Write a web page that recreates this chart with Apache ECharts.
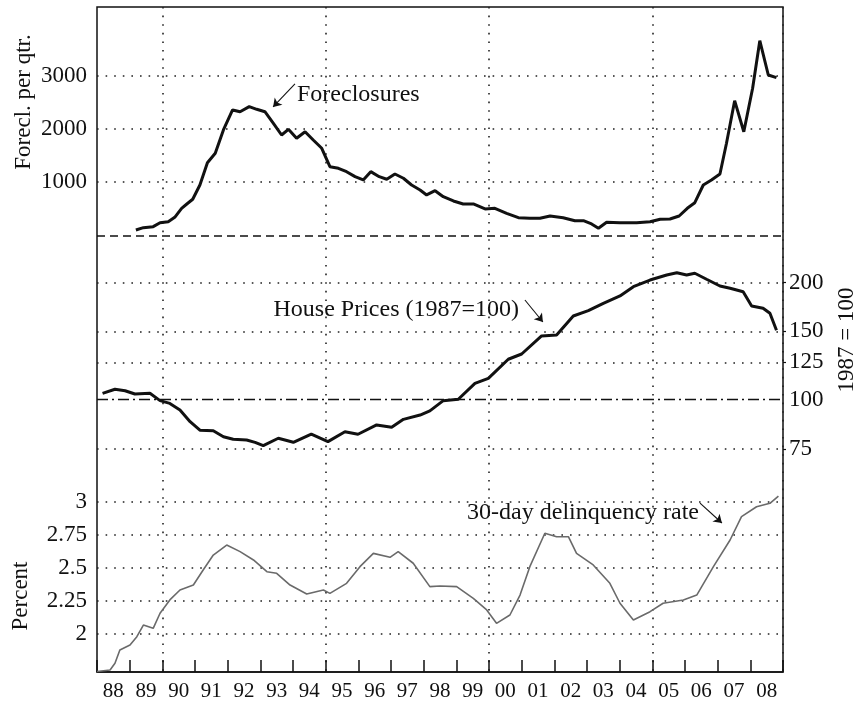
<!DOCTYPE html>
<html>
<head>
<meta charset="utf-8">
<script src="https://cdn.jsdelivr.net/npm/echarts@6/dist/echarts.min.js"></script>
<style>
  html, body { margin: 0; padding: 0; background: #fff; }
  #chart { width: 860px; height: 709px; }
</style>
</head>
<body>
<div id="chart"></div>
<script>
// year labels under the frame (one band per year, 1988..2008)
const yearLabels = ['88', '89', '90', '91', '92', '93', '94', '95', '96', '97', '98',
  '99', '00', '01', '02', '03', '04', '05', '06', '07', '08'];
const gridYears = ['90', '95', '00', '05'];

// foreclosures per quarter
const forecYears = [1989.19, 1989.42, 1989.72, 1989.93, 1990.18, 1990.38, 1990.59, 1990.75, 1990.93,
  1991.15, 1991.38, 1991.62, 1991.87, 1992.15, 1992.38, 1992.66, 1992.89, 1993.14, 1993.40,
  1993.65, 1993.86, 1994.11, 1994.37, 1994.62, 1994.88, 1995.13, 1995.39, 1995.64, 1995.90,
  1996.15, 1996.38, 1996.64, 1996.87, 1997.12, 1997.38, 1997.63, 1997.89, 1998.09, 1998.35,
  1998.60, 1998.91, 1999.21, 1999.52, 1999.88, 2000.18, 2000.54, 2000.90, 2001.25, 2001.56,
  2001.87, 2002.27, 2002.63, 2002.89, 2003.14, 2003.35, 2003.60, 2004.01, 2004.52, 2004.93,
  2005.24, 2005.54, 2005.82, 2006.07, 2006.30, 2006.56, 2006.81, 2007.07, 2007.27, 2007.52,
  2007.80, 2008.07, 2008.29, 2008.55, 2008.80];
const forecValues = [103, 147, 166, 240, 259, 341, 510, 591, 679,
  947, 1365, 1541, 1978, 2353, 2321, 2415, 2366, 2321, 2104,
  1884, 1991, 1823, 1946, 1791, 1635, 1290, 1260, 1196, 1103,
  1041, 1197, 1103, 1054, 1153, 1073, 947, 853, 760, 840,
  728, 647, 591, 591, 497, 510, 416, 334, 322, 322,
  366, 334, 278, 278, 216, 135, 247, 240, 240, 259,
  304, 309, 366, 510, 615, 947, 1041, 1153, 1729, 2528,
  1946, 2760, 3653, 3009, 2959];
const forecTicks = [1000, 2000, 3000];

// house prices, 1987 = 100 (log scale)
const houseYears = [1988.17, 1988.55, 1988.86, 1989.16, 1989.62, 1989.93, 1990.23, 1990.54, 1990.85,
  1991.15, 1991.56, 1991.87, 1992.17, 1992.58, 1992.84, 1993.09, 1993.55, 1994.01, 1994.56,
  1995.07, 1995.59, 1995.99, 1996.56, 1997.02, 1997.38, 1997.89, 1998.19, 1998.60, 1999.06,
  1999.57, 1999.98, 2000.59, 2001.00, 2001.61, 2002.07, 2002.58, 2003.04, 2003.50, 2004.01,
  2004.42, 2004.93, 2005.44, 2005.75, 2006.05, 2006.30, 2006.66, 2007.07, 2007.38, 2007.78,
  2008.04, 2008.39, 2008.60, 2008.80];
const houseValues = [104.2, 106.7, 105.8, 103.8, 104.2, 99.8, 98.2, 94.5, 88.2,
  83.9, 83.6, 80.7, 79.5, 79.2, 78.1, 76.6, 80.0, 78.1, 82.0,
  78.4, 83.1, 81.9, 86.5, 85.3, 89.4, 91.7, 94.0, 99.8, 100.6,
  110.5, 113.8, 127.3, 131.3, 146.0, 146.8, 164.2, 169.4, 176.9, 184.7,
  195.1, 202.9, 209.0, 211.8, 209.0, 211.1, 203.8, 195.9, 193.3, 189.4,
  174.1, 171.8, 166.8, 151];
const houseTicks = [75, 100, 125, 150, 200];

// 30-day delinquency rate, percent
const delinqYears = [1988.0, 1988.40, 1988.55, 1988.70, 1989.01, 1989.22, 1989.42, 1989.72, 1989.93,
  1990.23, 1990.54, 1990.95, 1991.25, 1991.56, 1991.97, 1992.38, 1992.79, 1993.20, 1993.50,
  1993.91, 1994.42, 1994.93, 1995.13, 1995.64, 1996.05, 1996.46, 1996.97, 1997.22, 1997.68,
  1998.19, 1998.50, 1999.01, 1999.52, 1999.93, 2000.23, 2000.64, 2000.95, 2001.25, 2001.71,
  2002.07, 2002.43, 2002.68, 2003.19, 2003.70, 2004.01, 2004.42, 2004.93, 2005.33, 2005.95,
  2006.36, 2006.87, 2007.38, 2007.73, 2008.19, 2008.60, 2008.86];
const delinqValues = [1.716, 1.727, 1.778, 1.879, 1.917, 1.980, 2.068, 2.043, 2.157,
  2.258, 2.333, 2.371, 2.485, 2.598, 2.674, 2.624, 2.561, 2.472, 2.460,
  2.371, 2.303, 2.333, 2.308, 2.384, 2.510, 2.611, 2.581, 2.624, 2.536,
  2.359, 2.364, 2.359, 2.270, 2.182, 2.081, 2.144, 2.295, 2.510, 2.763,
  2.737, 2.737, 2.611, 2.523, 2.384, 2.233, 2.106, 2.169, 2.233, 2.258,
  2.295, 2.510, 2.712, 2.889, 2.964, 2.990, 3.045];
const delinqTicks = [2, 2.25, 2.5, 2.75, 3];

const serif = '"Liberation Serif", "DejaVu Serif", serif';
const ink = '#111';
const dotted = { color: '#222', width: 1.6, type: [1.6, 7] };

const pairs = (xs, ys, f) => xs.map((x, i) => [x, f ? f(ys[i]) : ys[i]]);
const ln = Math.log;

const frame = { left: 97, right: 77 };
const yearAxis = (gridIndex) => ({
  type: 'value', gridIndex, min: 1988, max: 2009, show: false
});

const chart = echarts.init(document.getElementById('chart'));
chart.setOption({
  animation: false,
  backgroundColor: '#fff',
  grid: [
    { ...frame, top: 7, bottom: 37, show: true, borderColor: ink, borderWidth: 1.5 },
    { ...frame, top: 7, height: 228.5 },
    { ...frame, top: 250, height: 210 },
    { ...frame, top: 480, bottom: 37 }
  ],
  xAxis: [
    {
      type: 'category', gridIndex: 0, data: yearLabels, boundaryGap: true,
      axisLine: { show: true, lineStyle: { color: ink, width: 1.5 } },
      axisTick: { show: true, inside: true, length: 12, interval: 0, lineStyle: { color: ink, width: 1.5 } },
      axisLabel: { interval: 0, margin: 9, fontSize: 21, fontFamily: serif, color: ink },
      splitLine: {
        show: true,
        interval: (i) => gridYears.includes(yearLabels[i]),
        lineStyle: dotted
      }
    },
    yearAxis(1), yearAxis(2), yearAxis(3)
  ],
  yAxis: [
    { type: 'value', gridIndex: 0, show: false },
    {
      type: 'value', gridIndex: 1, position: 'left', min: 0, max: 4284,
      axisLine: { show: false },
      axisTick: { show: false, customValues: forecTicks },
      axisLabel: { customValues: forecTicks, margin: 10, fontSize: 23, fontFamily: serif, color: ink,
        formatter: (v) => String(v) },
      splitLine: { show: true, lineStyle: dotted }
    },
    {
      type: 'value', gridIndex: 2, position: 'right', min: 4.254, max: 5.4893,
      axisLine: { show: false },
      axisTick: { show: true, length: 3, customValues: houseTicks.filter(v => v !== 100).map(ln),
        lineStyle: { color: ink, width: 1.2 } },
      axisLabel: { customValues: houseTicks.map(ln), margin: 6, fontSize: 23, fontFamily: serif, color: ink,
        formatter: (v) => String(Math.round(Math.exp(v))) },
      splitLine: { show: true, lineStyle: dotted }
    },
    {
      type: 'value', gridIndex: 3, position: 'left', min: 1.7121, max: 3.1667,
      axisLine: { show: false },
      axisTick: { show: false, customValues: delinqTicks },
      axisLabel: { customValues: delinqTicks, margin: 10, fontSize: 23, fontFamily: serif, color: ink,
        formatter: (v) => String(+v.toFixed(2)) },
      splitLine: { show: true, lineStyle: dotted }
    }
  ],
  series: [
    {
      name: 'Foreclosures', type: 'line', xAxisIndex: 1, yAxisIndex: 1,
      data: pairs(forecYears, forecValues), symbol: 'none',
      lineStyle: { color: ink, width: 3 },
      markLine: {
        silent: true, symbol: 'none', label: { show: false },
        data: [
          { yAxis: 0, lineStyle: { color: ink, width: 1.5, type: [8, 5] } },
          [
            { coord: [1994.06, 2841], symbol: 'none', lineStyle: { color: ink, width: 1.1, type: 'solid' } },
            { coord: [1993.39, 2410], symbol: 'arrow', symbolSize: 8 }
          ]
        ]
      }
    },
    {
      name: 'House Prices', type: 'line', xAxisIndex: 2, yAxisIndex: 2,
      data: pairs(houseYears, houseValues, ln), symbol: 'none',
      lineStyle: { color: ink, width: 3 },
      markLine: {
        silent: true, symbol: 'none', label: { show: false },
        data: [
          { yAxis: ln(100), lineStyle: { color: ink, width: 1.4, type: [11, 4, 2, 4] } },
          [
            { coord: [2001.10, 5.1951], symbol: 'none', lineStyle: { color: ink, width: 1.1, type: 'solid' } },
            { coord: [2001.65, 5.0657], symbol: 'arrow', symbolSize: 8 }
          ]
        ]
      }
    },
    {
      name: '30-day delinquency rate', type: 'line', xAxisIndex: 3, yAxisIndex: 3,
      data: pairs(delinqYears, delinqValues), symbol: 'none',
      lineStyle: { color: '#6a6a6a', width: 1.6 },
      markLine: {
        silent: true, symbol: 'none', label: { show: false },
        data: [
          [
            { coord: [2006.46, 2.992], symbol: 'none', lineStyle: { color: ink, width: 1.1, type: 'solid' } },
            { coord: [2007.13, 2.841], symbol: 'arrow', symbolSize: 8 }
          ]
        ]
      }
    }
  ],
  graphic: [
    { type: 'text', x: 24, y: 102, rotation: Math.PI / 2,
      style: { text: 'Forecl. per qtr.', font: '23px ' + serif, fill: ink, align: 'center', verticalAlign: 'middle' } },
    { type: 'text', x: 21, y: 596, rotation: Math.PI / 2,
      style: { text: 'Percent', font: '23px ' + serif, fill: ink, align: 'center', verticalAlign: 'middle' } },
    { type: 'text', x: 847, y: 340, rotation: Math.PI / 2,
      style: { text: '1987 = 100', font: '23px ' + serif, fill: ink, align: 'center', verticalAlign: 'middle' } },
    { type: 'text', x: 297, y: 95,
      style: { text: 'Foreclosures', font: '24px ' + serif, fill: ink, align: 'left', verticalAlign: 'middle' } },
    { type: 'text', x: 519, y: 310,
      style: { text: 'House Prices (1987=100)', font: '24px ' + serif, fill: ink, align: 'right', verticalAlign: 'middle' } },
    { type: 'text', x: 699, y: 513,
      style: { text: '30-day delinquency rate', font: '24px ' + serif, fill: ink, align: 'right', verticalAlign: 'middle' } }
  ]
});
</script>
</body>
</html>
